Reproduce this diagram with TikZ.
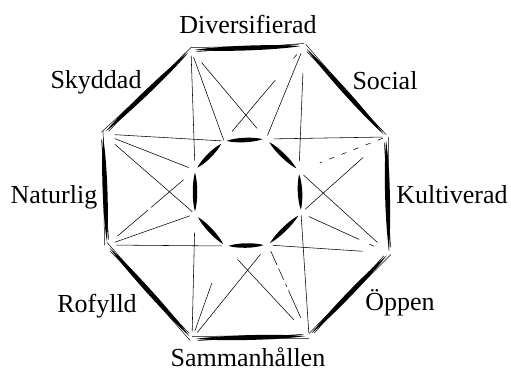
\documentclass[tikz,border=0pt]{standalone}
\usepackage{fontspec}
\setmainfont{Liberation Serif}
\usetikzlibrary{calc}
\newcommand{\brush}[5]{%
  \coordinate (bA) at ($(#1)!#3!(#2)$);
  \coordinate (bB) at ($(#1)!#4!(#2)$);
  \fill (bA) .. controls ($(bA)!0.25!(bB)!#5!90:(bB)$) and ($(bA)!0.75!(bB)!#5!90:(bB)$) .. (bB)
        .. controls ($(bA)!0.75!(bB)!#5!-90:(bB)$) and ($(bA)!0.25!(bB)!#5!-90:(bB)$) .. (bA) -- cycle;}
\newcommand{\outeredge}[2]{%
  \brush{#1}{#2}{0.03}{0.97}{3.2pt}
  \draw[sketch] ($(#1)!0.0!(#2)!2.4pt!90:(#2)$) -- ($(#1)!0.88!(#2)!0.8pt!90:(#2)$);
  \draw[sketch] ($(#1)!0.12!(#2)!0.9pt!-90:(#2)$) -- ($(#1)!1.0!(#2)!2.5pt!-90:(#2)$);
  \draw[sketch] ($(#1)!0.05!(#2)!1.8pt!-90:(#2)$) -- ($(#1)!0.95!(#2)!1.7pt!90:(#2)$);}
\newcommand{\tln}[5][]{\draw[thinline,#1] ($(#2)!#4!(#3)$) -- ($(#2)!#5!(#3)$);}
\begin{document}
\begin{tikzpicture}[x=1pt,y=-1pt,
  lbl/.style={font=\fontsize{26}{30}\selectfont, inner sep=0pt, anchor=base},
  thinline/.style={line width=0.55pt, line cap=round},
  sketch/.style={line width=0.5pt, line cap=round}]
\useasboundingbox (0,0) rectangle (511,372);
% outer octagon
\coordinate (o1) at (191,50);
\coordinate (o2) at (304,46);
\coordinate (o3) at (386,137);
\coordinate (o4) at (389,253);
\coordinate (o5) at (309,336);
\coordinate (o6) at (192,339);
\coordinate (o7) at (107,245);
\coordinate (o8) at (103,134);
% inner octagon
\coordinate (i1) at (224,141);
\coordinate (i2) at (266,139);
\coordinate (i3) at (299,171);
\coordinate (i4) at (301,213);
\coordinate (i5) at (268,245);
\coordinate (i6) at (225,246);
\coordinate (i7) at (195,214);
\coordinate (i8) at (195,170);
% outer edges
\outeredge{o1}{o2}
\outeredge{o2}{o3}
\outeredge{o3}{o4}
\outeredge{o4}{o5}
\outeredge{o5}{o6}
\outeredge{o6}{o7}
\outeredge{o7}{o8}
\outeredge{o8}{o1}
% inner edges
\brush{i1}{i2}{0.06}{0.92}{3pt}
\brush{i2}{i3}{0.1}{0.92}{3pt}
\brush{i3}{i4}{0.08}{0.92}{3pt}
\brush{i4}{i5}{0.08}{0.94}{3pt}
\brush{i5}{i6}{0.1}{0.92}{3pt}
\brush{i6}{i7}{0.06}{0.9}{3pt}
\brush{i7}{i8}{0.06}{0.94}{3pt}
\brush{i8}{i1}{0.08}{0.9}{3pt}
% connectors
\tln{o1}{i1}{0.08}{0.99}
\tln{o1}{i2}{0.14}{0.88}
\tln{o1}{i8}{0.05}{0.92}
\tln{o2}{i2}{0.08}{0.96}
\tln{o2}{i1}{0.36}{0.90}
\tln{o2}{i1}{0.09}{0.13}
\tln{o2}{i3}{0.22}{0.92}
\tln[dash pattern=on 5pt off 8pt]{o3}{i3}{0.04}{0.76}
\tln{o3}{i2}{0.03}{0.93}
\tln{o3}{i4}{0.27}{0.95}
\tln{o4}{i4}{0.34}{0.91}
\tln{o4}{i4}{0.17}{0.22}
\tln{o4}{i3}{0.13}{0.95}
\tln{o4}{i5}{0.22}{0.96}
\tln[dash pattern=on 30pt off 4pt on 3pt off 5pt on 12pt off 4pt]{o5}{i5}{0.2}{0.93}
\tln{o5}{i6}{0.18}{0.85}
\tln{o5}{i4}{0.03}{0.98}
\tln{o6}{i6}{0.09}{0.6}
\tln{o6}{i5}{0.07}{0.9}
\tln{o6}{i7}{0.06}{0.85}
\tln{o7}{i7}{0.09}{0.94}
\tln[dash pattern=on 40pt off 4pt on 100pt]{o7}{i8}{0.12}{0.87}
\tln{o7}{i6}{0.08}{0.97}
\tln{o8}{i8}{0.13}{0.93}
\tln{o8}{i7}{0.13}{0.97}
\tln{o8}{i1}{0.1}{0.98}
% labels
\node[lbl] (div) at (248,33) {Diversifierad};
\node[lbl] (soc) at (385,89) {Social};
\node[lbl] (sky) at (96,88) {Skyddad};
\node[lbl] (nat) at (54,203) {Naturlig};
\node[lbl] (kul) at (452,203) {Kultiverad};
\node[lbl] (rof) at (97,312) {Rofylld};
\node[lbl] (opp) at (400,310) {Öppen};
\node[lbl] (sam) at (248,366) {Sammanhållen};
\end{tikzpicture}
\end{document}
